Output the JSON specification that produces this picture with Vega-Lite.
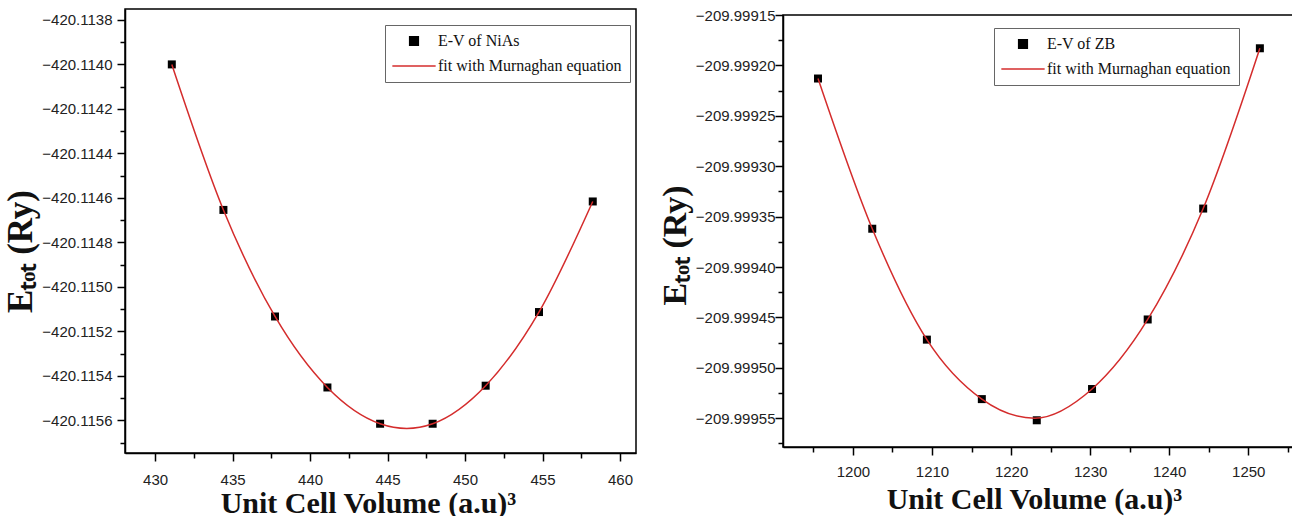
{
  "$schema": "https://vega.github.io/schema/vega-lite/v6.json",
  "background": "white",
  "padding": {"left": 2, "top": 7, "right": 0, "bottom": 0},
  "datasets": {
    "nias_pts": [
      {"V": 431.08, "E": -420.11400, "series": "E-V of NiAs"},
      {"V": 434.41, "E": -420.114654, "series": "E-V of NiAs"},
      {"V": 437.74, "E": -420.115133, "series": "E-V of NiAs"},
      {"V": 441.12, "E": -420.115452, "series": "E-V of NiAs"},
      {"V": 444.52, "E": -420.115615, "series": "E-V of NiAs"},
      {"V": 447.91, "E": -420.115615, "series": "E-V of NiAs"},
      {"V": 451.33, "E": -420.115444, "series": "E-V of NiAs"},
      {"V": 454.77, "E": -420.115113, "series": "E-V of NiAs"},
      {"V": 458.24, "E": -420.114616, "series": "E-V of NiAs"}
    ],
    "nias_fit": [
      {"V": 431.08, "E": -420.11400, "series": "fit with Murnaghan equation"},
      {"V": 434.41, "E": -420.114654, "series": "fit with Murnaghan equation"},
      {"V": 437.74, "E": -420.115133, "series": "fit with Murnaghan equation"},
      {"V": 441.12, "E": -420.115452, "series": "fit with Murnaghan equation"},
      {"V": 444.52, "E": -420.115615, "series": "fit with Murnaghan equation"},
      {"V": 446.24, "E": -420.115636, "series": "fit with Murnaghan equation"},
      {"V": 447.91, "E": -420.115615, "series": "fit with Murnaghan equation"},
      {"V": 451.33, "E": -420.115444, "series": "fit with Murnaghan equation"},
      {"V": 454.77, "E": -420.115113, "series": "fit with Murnaghan equation"},
      {"V": 458.24, "E": -420.114616, "series": "fit with Murnaghan equation"}
    ],
    "zb_pts": [
      {"V": 1195.58, "E": -209.999213, "series": "E-V of ZB"},
      {"V": 1202.44, "E": -209.999362, "series": "E-V of ZB"},
      {"V": 1209.35, "E": -209.999472, "series": "E-V of ZB"},
      {"V": 1216.30, "E": -209.999531, "series": "E-V of ZB"},
      {"V": 1223.25, "E": -209.999552, "series": "E-V of ZB"},
      {"V": 1230.24, "E": -209.999521, "series": "E-V of ZB"},
      {"V": 1237.28, "E": -209.999452, "series": "E-V of ZB"},
      {"V": 1244.30, "E": -209.999342, "series": "E-V of ZB"},
      {"V": 1251.47, "E": -209.999183, "series": "E-V of ZB"}
    ],
    "zb_fit": [
      {"V": 1195.58, "E": -209.999213, "series": "fit with Murnaghan equation"},
      {"V": 1202.44, "E": -209.999362, "series": "fit with Murnaghan equation"},
      {"V": 1209.35, "E": -209.999472, "series": "fit with Murnaghan equation"},
      {"V": 1216.30, "E": -209.999531, "series": "fit with Murnaghan equation"},
      {"V": 1223.00, "E": -209.999550, "series": "fit with Murnaghan equation"},
      {"V": 1230.24, "E": -209.999521, "series": "fit with Murnaghan equation"},
      {"V": 1237.28, "E": -209.999452, "series": "fit with Murnaghan equation"},
      {"V": 1244.30, "E": -209.999342, "series": "fit with Murnaghan equation"},
      {"V": 1251.47, "E": -209.999183, "series": "fit with Murnaghan equation"}
    ]
  },
  "config": {
    "view": {"stroke": "black", "strokeWidth": 1.5},
    "axis": {
      "grid": false,
      "domainColor": "black",
      "domainWidth": 1.5,
      "tickColor": "black",
      "tickWidth": 1.5,
      "labelFont": "Liberation Sans",
      "labelFontSize": 15,
      "labelColor": "#222",
      "labelOverlap": false,
      "labelFlush": false,
      "titleFont": "Liberation Serif",
      "titleFontWeight": "bold",
      "titleColor": "#111",
      "titleBaseline": "alphabetic"
    },
    "legend": {
      "orient": "none",
      "title": null,
      "strokeColor": "#666",
      "strokeWidth": 1,
      "fillColor": "white",
      "padding": 8,
      "labelFont": "Liberation Serif",
      "labelFontSize": 16,
      "labelColor": "#111",
      "labelLimit": 400,
      "symbolSize": 75,
      "rowPadding": 9,
      "symbolOffset": 13,
      "labelOffset": 16
    }
  },
  "resolve": {
    "scale": {"x": "independent", "y": "independent", "color": "independent", "shape": "independent"},
    "legend": {"color": "independent", "shape": "independent"}
  },
  "spacing": 20,
  "hconcat": [
    {
      "width": 511,
      "height": 444,
      "resolve": {"axis": {"y": "independent"}},
      "layer": [
        {
          "data": {"name": "nias_pts"},
          "mark": {"type": "point", "filled": true, "size": 64, "opacity": 1},
          "encoding": {
            "x": {
              "field": "V", "type": "quantitative",
              "scale": {"domain": [428.06, 461.03], "nice": false, "zero": false},
              "axis": {
                "values": [430, 432.5, 435, 437.5, 440, 442.5, 445, 447.5, 450, 452.5, 455, 457.5, 460],
                "labelExpr": "datum.value % 5 === 0 ? format(datum.value, 'd') : ''",
                "tickSize": {"condition": {"test": "datum.value % 5 === 0", "value": 8}, "value": 5},
                "labelPadding": 11,
                "title": "Unit Cell Volume (a.u)³",
                "titleFontSize": 30,
                "titleY": 59,
                "titleX": 243
              }
            },
            "y": {
              "field": "E", "type": "quantitative",
              "scale": {"domain": [-420.1157465, -420.113751], "nice": false, "zero": false},
              "axis": {
                "orient": "left",
                "values": [-420.1138, -420.1140, -420.1142, -420.1144, -420.1146, -420.1148, -420.1150, -420.1152, -420.1154, -420.1156],
                "format": ".4f",
                "tickSize": 8,
                "labelPadding": 5,
                "title": "Eₜₒₜ (Ry)",
                "titleFontSize": 35,
                "titleX": -94,
                "titleY": 242
              }
            },
            "color": {
              "field": "series", "type": "nominal",
              "scale": {"domain": ["E-V of NiAs", "fit with Murnaghan equation"], "range": ["black", "#d42c2c"]},
              "legend": {
                "legendX": 260, "legendY": 16,
                "encode": {"symbols": {"update": {
                  "stroke": {"signal": "datum.value === 'fit with Murnaghan equation' ? '#d42c2c' : 'black'"},
                  "strokeWidth": {"signal": "datum.value === 'fit with Murnaghan equation' ? 2 : 0"}
                }}}
              }
            },
            "shape": {
              "field": "series", "type": "nominal",
              "scale": {"domain": ["E-V of NiAs", "fit with Murnaghan equation"], "range": ["square", "M-5,0L5,0"]},
              "legend": {
                "legendX": 260, "legendY": 16,
                "encode": {"symbols": {"update": {
                  "stroke": {"signal": "datum.value === 'fit with Murnaghan equation' ? '#d42c2c' : 'black'"},
                  "strokeWidth": {"signal": "datum.value === 'fit with Murnaghan equation' ? 2 : 0"}
                }}}
              }
            }
          }
        },
        {
          "data": {"name": "nias_fit"},
          "mark": {"type": "line", "interpolate": "monotone", "strokeWidth": 1.5},
          "encoding": {
            "x": {"field": "V", "type": "quantitative"},
            "y": {
              "field": "E", "type": "quantitative",
              "axis": {
                "orient": "left",
                "values": [-420.1139, -420.1141, -420.1143, -420.1145, -420.1147, -420.1149, -420.1151, -420.1153, -420.1155, -420.1157],
                "labels": false,
                "domain": false,
                "tickSize": 5,
                "title": null
              }
            },
            "color": {"field": "series", "type": "nominal"}
          }
        }
      ]
    },
    {
      "spacing": 0,
      "bounds": "flush",
      "vconcat": [
        {
          "width": 510,
          "height": 6,
          "data": {"values": []},
          "mark": "rect",
          "encoding": {},
          "view": {"stroke": null}
        },
        {
          "width": 510,
          "height": 432,
          "resolve": {"axis": {"y": "independent"}},
          "layer": [
            {
              "data": {"name": "zb_pts"},
              "mark": {"type": "point", "filled": true, "size": 64, "opacity": 1},
              "encoding": {
                "x": {
                  "field": "V", "type": "quantitative",
                  "scale": {"domain": [1191.15, 1255.66], "nice": false, "zero": false},
                  "axis": {
                    "values": [1195, 1200, 1205, 1210, 1215, 1220, 1225, 1230, 1235, 1240, 1245, 1250, 1255],
                    "labelExpr": "datum.value % 10 === 0 ? format(datum.value, 'd') : ''",
                    "tickSize": {"condition": {"test": "datum.value % 10 === 0", "value": 8}, "value": 5},
                    "labelPadding": 9,
                    "title": "Unit Cell Volume (a.u)³",
                    "titleFontSize": 30,
                    "titleY": 61,
                    "titleX": 251
                  }
                },
                "y": {
                  "field": "E", "type": "quantitative",
                  "scale": {"domain": [-209.9995785, -209.99915], "nice": false, "zero": false},
                  "axis": {
                    "orient": "left",
                    "values": [-209.99915, -209.9992, -209.99925, -209.9993, -209.99935, -209.9994, -209.99945, -209.9995, -209.99955],
                    "format": ".5f",
                    "tickSize": 8,
                    "labelPadding": 0,
                    "title": "Eₜₒₜ (Ry)",
                    "titleFontSize": 34,
                    "titleX": -98,
                    "titleY": 230
                  }
                },
                "color": {
                  "field": "series", "type": "nominal",
                  "scale": {"domain": ["E-V of ZB", "fit with Murnaghan equation"], "range": ["black", "#d42c2c"]},
                  "legend": {
                    "legendX": 211, "legendY": 19,
                    "encode": {"symbols": {"update": {
                      "stroke": {"signal": "datum.value === 'fit with Murnaghan equation' ? '#d42c2c' : 'black'"},
                      "strokeWidth": {"signal": "datum.value === 'fit with Murnaghan equation' ? 2 : 0"}
                    }}}
                  }
                },
                "shape": {
                  "field": "series", "type": "nominal",
                  "scale": {"domain": ["E-V of ZB", "fit with Murnaghan equation"], "range": ["square", "M-5,0L5,0"]},
                  "legend": {
                    "legendX": 211, "legendY": 19,
                    "encode": {"symbols": {"update": {
                      "stroke": {"signal": "datum.value === 'fit with Murnaghan equation' ? '#d42c2c' : 'black'"},
                      "strokeWidth": {"signal": "datum.value === 'fit with Murnaghan equation' ? 2 : 0"}
                    }}}
                  }
                }
              }
            },
            {
              "data": {"name": "zb_fit"},
              "mark": {"type": "line", "interpolate": "monotone", "strokeWidth": 1.5},
              "encoding": {
                "x": {"field": "V", "type": "quantitative"},
                "y": {
                  "field": "E", "type": "quantitative",
                  "axis": {
                    "orient": "left",
                    "values": [-209.999175, -209.999225, -209.999275, -209.999325, -209.999375, -209.999425, -209.999475, -209.999525, -209.999575],
                    "labels": false,
                    "domain": false,
                    "tickSize": 5,
                    "title": null
                  }
                },
                "color": {"field": "series", "type": "nominal"}
              }
            }
          ]
        }
      ]
    }
  ]
}
